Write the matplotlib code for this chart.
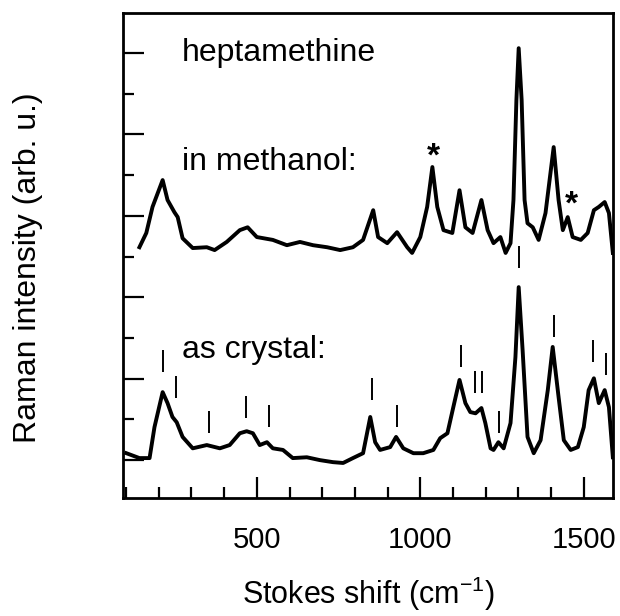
import matplotlib
matplotlib.use("Agg")
import matplotlib.pyplot as plt
from matplotlib.ticker import MultipleLocator, NullFormatter

plt.rcParams['font.family'] = ['Liberation Sans', 'DejaVu Sans']
plt.rcParams['mathtext.fontset'] = 'custom'
plt.rcParams['mathtext.rm'] = 'Liberation Sans'
plt.rcParams['mathtext.it'] = 'Liberation Sans'

# Raman spectrum of heptamethine in methanol (upper trace)
methanolShift = [141, 162, 181, 212, 227, 248, 258, 273, 304, 347, 371, 408, 448, 472, 500,
                 549, 592, 632, 672, 715, 755, 794, 825, 856, 871, 899, 929, 960, 975, 1000,
                 1021, 1037, 1052, 1071, 1098, 1120, 1138, 1160, 1187, 1206, 1224, 1245, 1261,
                 1276, 1285, 1294, 1301, 1310, 1319, 1328, 1344, 1362, 1383, 1408, 1423, 1436,
                 1451, 1466, 1491, 1512, 1531, 1546, 1564, 1577, 1589]
methanolInt = [5.23, 5.58, 6.22, 6.88, 6.39, 6.09, 5.97, 5.45, 5.21, 5.23, 5.16, 5.36, 5.65, 5.72, 5.48,
               5.41, 5.28, 5.36, 5.28, 5.23, 5.16, 5.23, 5.41, 6.14, 5.48, 5.33, 5.60, 5.23, 5.09, 5.48,
               6.22, 7.20, 6.22, 5.65, 5.58, 6.63, 5.72, 5.58, 6.39, 5.65, 5.33, 5.48, 5.09,
               5.33, 6.39, 8.85, 10.12, 8.85, 6.39, 5.82, 5.72, 5.41, 6.07, 7.69, 6.39, 5.65,
               5.97, 5.48, 5.41, 5.58, 6.14, 6.22, 6.34, 6.07, 5.09]

# Raman spectrum of heptamethine as crystal (lower trace)
crystalShift = [101, 141, 172, 187, 212, 227, 242, 255, 273, 304, 347, 387, 417, 448, 469, 488,
                509, 531, 549, 580, 610, 653, 693, 733, 764, 794, 825, 847, 862, 877, 908,
                926, 948, 979, 1009, 1040, 1061, 1083, 1101, 1120, 1138, 1153, 1169, 1187,
                1199, 1215, 1224, 1239, 1255, 1276, 1291, 1301, 1313, 1328, 1347, 1368, 1390,
                1405, 1423, 1439, 1460, 1482, 1500, 1515, 1531, 1546, 1564, 1577, 1589]
crystalInt = [0.17, 0.05, 0.05, 0.81, 1.67, 1.40, 1.06, 0.93, 0.57, 0.29, 0.37, 0.29, 0.37, 0.66, 0.71, 0.66,
              0.37, 0.44, 0.29, 0.25, 0.05, 0.07, 0.0, -0.05, -0.07, 0.05, 0.17, 1.06, 0.44, 0.25, 0.32,
              0.57, 0.29, 0.17, 0.17, 0.25, 0.54, 0.66, 1.30, 1.97, 1.40, 1.18, 1.15, 1.28,
              0.91, 0.29, 0.25, 0.44, 0.29, 0.91, 2.53, 4.25, 2.70, 0.57, 0.17, 0.49, 1.72,
              2.78, 1.55, 0.49, 0.25, 0.32, 0.81, 1.72, 2.01, 1.40, 1.72, 1.30, 0.07]

# band assignment markers for the crystal spectrum
markShift = [212, 252, 353, 466, 537, 853, 929, 1126, 1166, 1190, 1242, 1301, 1408, 1528, 1567]
markBottom = [2.16, 1.52, 0.66, 1.03, 0.81, 1.47, 0.81, 2.28, 1.65, 1.65, 0.66, 4.72, 3.02, 2.41, 2.09]
markLength = 0.54

# solvent bands (asterisks)
solventShift = [1040, 1463]
solventInt = [7.44, 6.27]

fig = plt.figure(figsize=(6.2, 6.16), dpi=100)
ax = fig.add_axes([0.198, 0.1916, 0.791, 0.787])

ax.plot(methanolShift, methanolInt, color="black", linewidth=2.8, solid_joinstyle="round")
ax.plot(crystalShift, crystalInt, color="black", linewidth=2.8, solid_joinstyle="round")
ax.vlines(markShift, markBottom, [b + markLength for b in markBottom], color="black", linewidth=1.4)
for s, v in zip(solventShift, solventInt):
    ax.text(s, v, "*", ha="center", va="center", fontsize=24, fontweight="bold")

ax.text(270, 10.0, "heptamethine", fontsize=23, va="center")
ax.text(270, 7.33, "in methanol:", fontsize=23, va="center")
ax.text(270, 2.70, "as crystal:", fontsize=23, va="center")

ax.set_xlim(90, 1590)
ax.set_ylim(-0.93, 10.98)
ax.xaxis.set_major_locator(MultipleLocator(500))
ax.xaxis.set_minor_locator(MultipleLocator(100))
ax.yaxis.set_major_locator(MultipleLocator(2))
ax.yaxis.set_minor_locator(MultipleLocator(1))
ax.yaxis.set_major_formatter(NullFormatter())
ax.tick_params(which="both", direction="in", width=1.6, labelsize=21)
ax.tick_params(which="major", length=15, pad=20)
ax.tick_params(which="minor", length=8)
for sp in ax.spines.values():
    sp.set_linewidth(2.0)

ax.set_xlabel("Stokes shift (cm$^{-1}$)", fontsize=22)
ax.set_ylabel("Raman intensity (arb. u.)", fontsize=23)
ax.xaxis.set_label_coords(0.5, -0.158)
ax.yaxis.set_label_coords(-0.163, 0.476)

plt.savefig("out.png", dpi=100)
